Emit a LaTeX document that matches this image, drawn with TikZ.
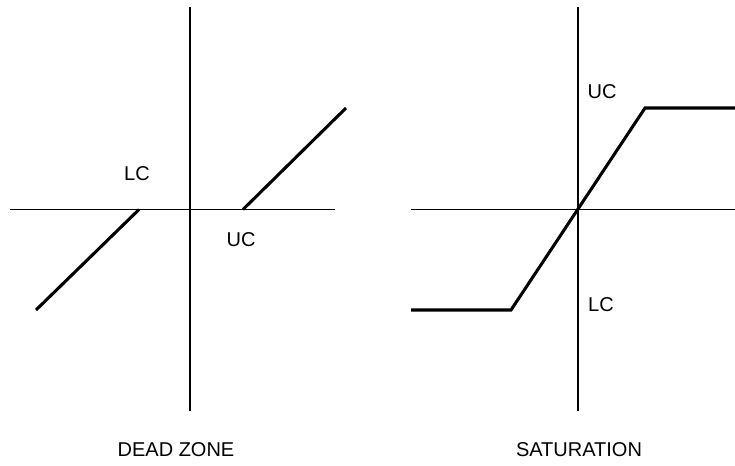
\documentclass[tikz,border=0pt]{standalone}
\usepackage{fontspec}
\setmainfont{Liberation Sans}
\begin{document}
\begin{tikzpicture}[x=0.75pt,y=-0.75pt,
  axis/.style={line width=1.1pt},
  curve/.style={line width=2.3pt,line join=miter},
  lbl/.style={font=\fontsize{15}{18}\selectfont,inner sep=0pt}]
\useasboundingbox (0,0) rectangle (735,465);
% left axes
\coordinate (lt) at (190,7);
\coordinate (lb) at (190,411);
\coordinate (ll) at (10,209.5);
\coordinate (lr) at (335,209.5);
\draw[axis] (lt) -- (lb);
\draw[axis] (ll) -- (lr);
% dead zone
\coordinate (d1) at (36,310);
\coordinate (d2) at (139,209.5);
\coordinate (d3) at (243,209.5);
\coordinate (d4) at (346,108);
\draw[curve] (d1) -- (d2);
\draw[curve] (d3) -- (d4);
\node[lbl] (lc1) at (137,174) {LC};
\node[lbl] (uc1) at (241,240) {UC};
% right axes
\coordinate (rt) at (578,7);
\coordinate (rb) at (578,411);
\coordinate (rl) at (411,209.5);
\coordinate (rr) at (735,209.5);
\draw[axis] (rt) -- (rb);
\draw[axis] (rl) -- (rr);
% saturation
\coordinate (s1) at (411,310);
\coordinate (s2) at (511,310);
\coordinate (s3) at (645,108);
\coordinate (s4) at (735,108);
\draw[curve] (s1) -- (s2) -- (s3) -- (s4);
\node[lbl] (uc2) at (602,92) {UC};
\node[lbl] (lc2) at (601,305) {LC};
% titles
\node[lbl] (t1) at (176,450) {DEAD ZONE};
\node[lbl] (t2) at (579,450) {SATURATION};
\end{tikzpicture}
\end{document}
